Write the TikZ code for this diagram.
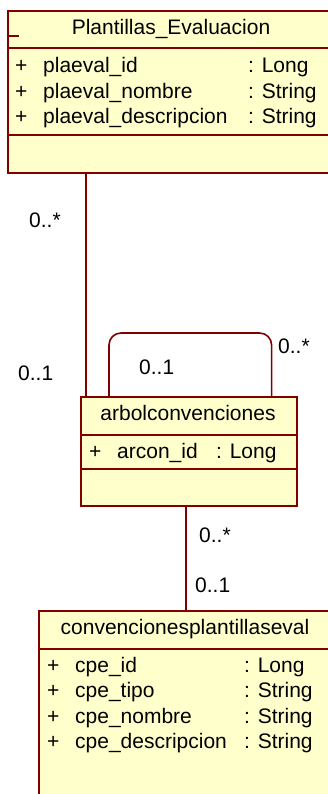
\documentclass[tikz,border=0pt]{standalone}
\usepackage{fontspec}
\setmainfont{Liberation Sans}
\usepackage{tikz}
\usetikzlibrary{positioning, calc}
\definecolor{umlred}{RGB}{128,0,0}
\definecolor{umlfill}{RGB}{255,255,204}

\begin{document}
\begin{tikzpicture}[x=1pt, y=-1pt,
    cls/.style={rectangle, draw=umlred, fill=umlfill, line width=1.6pt, inner sep=0, anchor=north west},
    txt/.style={inner sep=0, anchor=base west, font=\fontsize{21pt}{25pt}\selectfont},
    assoc/.style={draw=umlred, line width=1.6pt}]
    \useasboundingbox (0,0) rectangle (327,794);

    % Classes
    \node[cls, minimum width=330pt, minimum height=162pt] (plaeval) at (7,10) {};
    \node[cls, minimum width=216pt, minimum height=109pt] (arbol) at (80,396) {};
    \node[cls, minimum width=294pt, minimum height=200pt] (convpe) at (38,610) {};

    % Compartments
    \draw[assoc] ([yshift=-38pt]plaeval.north west) -- ([yshift=-38pt]plaeval.north east);
    \draw[assoc] ([yshift=-125pt]plaeval.north west) -- ([yshift=-125pt]plaeval.north east);
    \draw[assoc] (7,36) -- (19,36);
    \draw[assoc] ([yshift=-39pt]arbol.north west) -- ([yshift=-39pt]arbol.north east);
    \draw[assoc] ([yshift=-73pt]arbol.north west) -- ([yshift=-73pt]arbol.north east);
    \draw[assoc] ([yshift=-39pt]convpe.north west) -- ([yshift=-39pt]convpe.north east);

    % Titles
    \node[txt, anchor=base] (plaeval-t) at (171,35) {Plantillas\_Evaluacion};
    \node[txt, anchor=base] (arbol-t) at (188,420) {arbolconvenciones};
    \node[txt, anchor=base] (convpe-t) at (185,634) {convencionesplantillaseval};

    % Attributes
    \node[txt] (plaeval-a1) at (15,73) {\makebox[28pt][l]{+}\makebox[205pt][l]{plaeval\_id}: Long};
    \node[txt] (plaeval-a2) at (15,98.5) {\makebox[28pt][l]{+}\makebox[205pt][l]{plaeval\_nombre}: String};
    \node[txt] (plaeval-a3) at (15,124) {\makebox[28pt][l]{+}\makebox[205pt][l]{plaeval\_descripcion}: String};
    \node[txt] (arbol-a1) at (89,458) {\makebox[28pt][l]{+}\makebox[99pt][l]{arcon\_id}: Long};
    \node[txt] (convpe-a1) at (47,672) {\makebox[28pt][l]{+}\makebox[169pt][l]{cpe\_id}: Long};
    \node[txt] (convpe-a2) at (47,697.5) {\makebox[28pt][l]{+}\makebox[169pt][l]{cpe\_tipo}: String};
    \node[txt] (convpe-a3) at (47,723) {\makebox[28pt][l]{+}\makebox[169pt][l]{cpe\_nombre}: String};
    \node[txt] (convpe-a4) at (47,748.5) {\makebox[28pt][l]{+}\makebox[169pt][l]{cpe\_descripcion}: String};

    % Associations
    \draw[assoc] ([xshift=79pt]plaeval.south west) -- ([xshift=6pt]arbol.north west);
    \draw[assoc, rounded corners=12pt] ([xshift=29pt]arbol.north west) -- ++(0,-63) -| ([xshift=-26pt]arbol.north east);
    \draw[assoc] ([xshift=106pt]arbol.south west) -- ([xshift=148pt]convpe.north west);

    % Multiplicities
    \node[txt] (m1) at (29,228) {0..*};
    \node[txt] (m2) at (18,380) {0..1};
    \node[txt] (m3) at (139,374) {0..1};
    \node[txt] (m4) at (278,353) {0..*};
    \node[txt] (m5) at (199,542) {0..*};
    \node[txt] (m6) at (195,592) {0..1};
\end{tikzpicture}
\end{document}
